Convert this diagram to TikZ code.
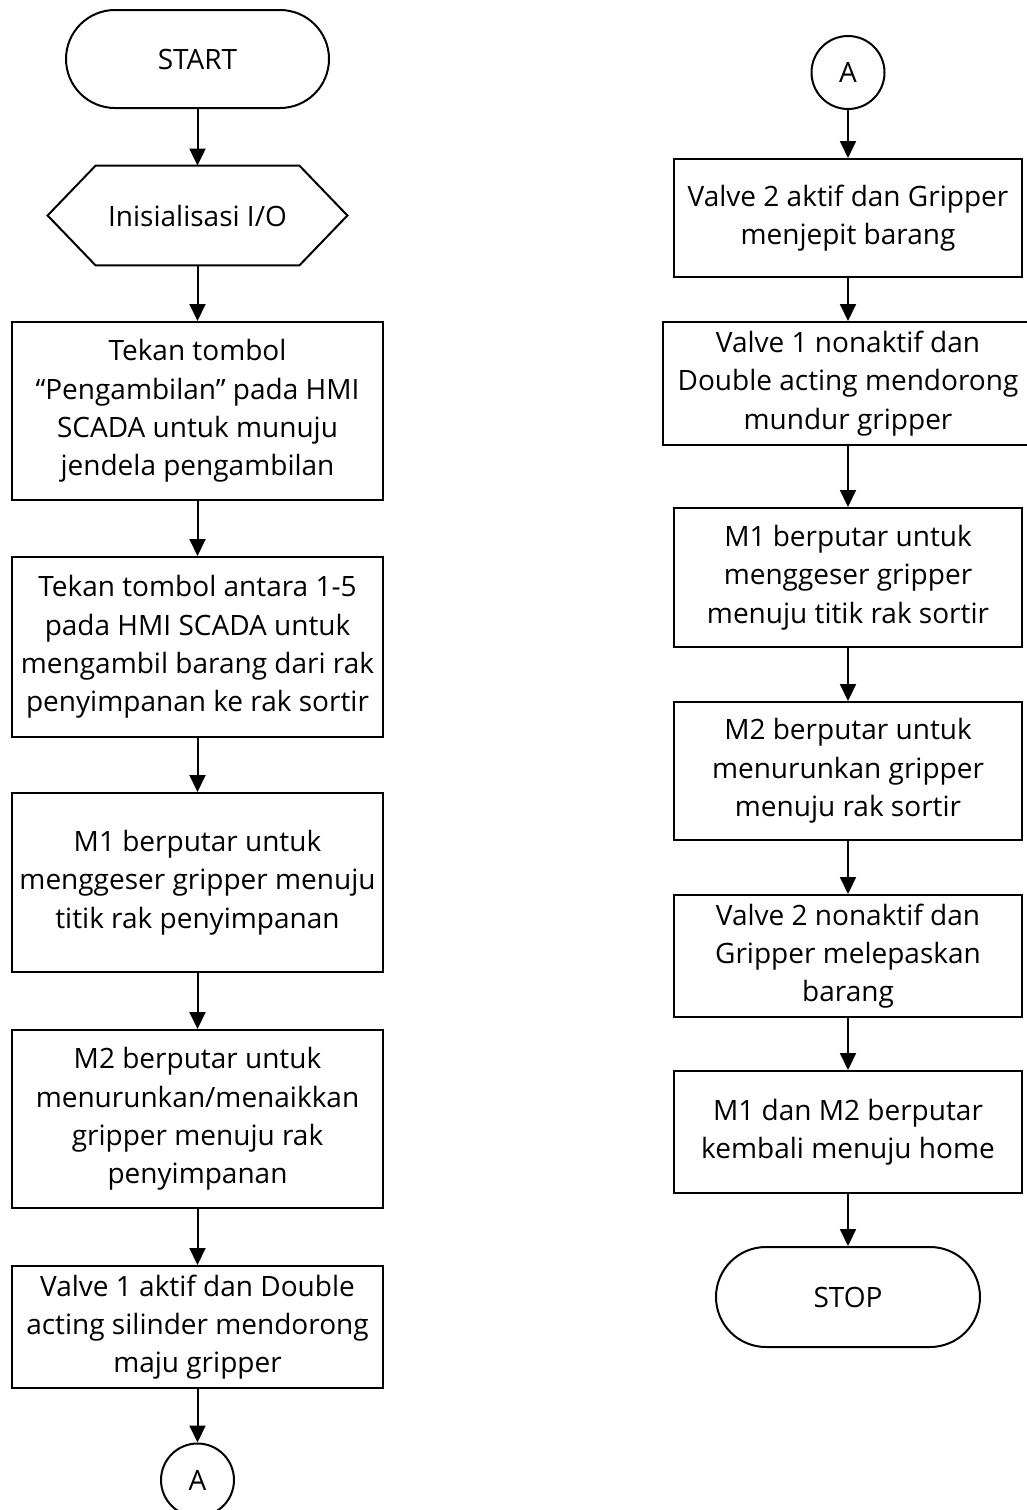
\documentclass[tikz,border=0pt]{standalone}
\usepackage{fontspec}
\setmainfont{Open Sans}
\usetikzlibrary{arrows.meta, positioning}

\tikzset{
    terminal/.style={draw, line width=1pt, rounded corners=24.5pt, minimum width=131.5pt, minimum height=49pt, inner sep=0pt},
    process/.style={draw, line width=1pt, align=center, minimum width=185.5pt, inner sep=0pt},
    prep/.style={align=center, minimum width=149.5pt, minimum height=49.5pt, inner sep=0pt},
    connector/.style={draw, circle, line width=1pt, minimum size=36.5pt, inner sep=0pt},
    flow/.style={line width=1pt, -{Triangle[width=8pt, length=8.5pt]}}
}

\begin{document}
\begin{tikzpicture}[x=0.5pt, y=-0.5pt, font=\fontsize{14}{19.15}\selectfont]
    \useasboundingbox (0,0) rectangle (1027,1510);
    \clip (0,0) rectangle (1027,1510);

    \node[terminal] (start) at (197.5, 59) {START};
    \node[prep] (init) at (197.5, 215.5) {Inisialisasi I/O};
    \draw[line width=1pt] (init.west) -- ([xshift=24pt]init.north west) -- ([xshift=-24pt]init.north east) -- (init.east) -- ([xshift=-24pt]init.south east) -- ([xshift=24pt]init.south west) -- cycle;
    \node[process, minimum height=89pt] (menu) at (197.5, 411) {Tekan tombol\\“Pengambilan” pada HMI\\SCADA untuk munuju\\jendela pengambilan};
    \node[process, minimum height=90pt] (pilih) at (197.5, 647) {Tekan tombol antara 1-5\\pada HMI SCADA untuk\\mengambil barang dari rak\\penyimpanan ke rak sortir};
    \node[process, minimum height=89.5pt] (geserA) at (197.5, 882.5) {M1 berputar untuk\\menggeser gripper menuju\\titik rak penyimpanan};
    \node[process, minimum height=89pt] (turunA) at (197.5, 1119) {M2 berputar untuk\\menurunkan/menaikkan\\gripper menuju rak\\penyimpanan};
    \node[process, minimum height=61pt] (maju) at (197.5, 1327) {Valve 1 aktif dan Double\\acting silinder mendorong\\maju gripper};
    \node[connector] (outA) at (197.5, 1480) {A};

    \node[connector] (inA) at (848, 72.5) {A};
    \node[process, minimum width=174pt, minimum height=59pt] (jepit) at (848, 218) {Valve 2 aktif dan Gripper\\menjepit barang};
    \node[process, minimum width=185pt, minimum height=61.5pt] (mundur) at (848, 383.5) {Valve 1 nonaktif dan\\Double acting mendorong\\mundur gripper};
    \node[process, minimum width=174pt, minimum height=69.5pt] (geserB) at (848, 577.5) {M1 berputar untuk\\menggeser gripper\\menuju titik rak sortir};
    \node[process, minimum width=174pt, minimum height=69pt] (turunB) at (848, 771) {M2 berputar untuk\\menurunkan gripper\\menuju rak sortir};
    \node[process, minimum width=174pt, minimum height=61pt] (lepas) at (848, 956) {Valve 2 nonaktif dan\\Gripper melepaskan\\barang};
    \node[process, minimum width=174pt, minimum height=61pt] (home) at (848, 1132) {M1 dan M2 berputar\\kembali menuju home};
    \node[terminal, minimum width=132pt, minimum height=50pt, rounded corners=25pt] (stop) at (848, 1297) {STOP};

    \draw[flow] (start) -- (init);
    \draw[flow] (init) -- (menu);
    \draw[flow] (menu) -- (pilih);
    \draw[flow] (pilih) -- (geserA);
    \draw[flow] (geserA) -- (turunA);
    \draw[flow] (turunA) -- (maju);
    \draw[flow] (maju) -- (outA);

    \draw[flow] (inA) -- (jepit);
    \draw[flow] (jepit) -- (mundur);
    \draw[flow] (mundur) -- (geserB);
    \draw[flow] (geserB) -- (turunB);
    \draw[flow] (turunB) -- (lepas);
    \draw[flow] (lepas) -- (home);
    \draw[flow] (home) -- (stop);
\end{tikzpicture}
\end{document}
